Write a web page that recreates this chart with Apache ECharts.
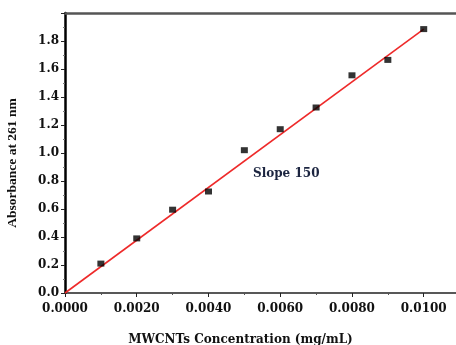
<!DOCTYPE html>
<html>
<head>
<meta charset="utf-8">
<script src="https://cdn.jsdelivr.net/npm/echarts@6/dist/echarts.min.js"></script>
<style>
  html, body { margin: 0; padding: 0; background: #fff; }
  #chart { width: 456px; height: 345px; }
</style>
</head>
<body>
<div id="chart"></div>
<script>
  // measured points
  var concentration = [0.001, 0.002, 0.003, 0.004, 0.005, 0.006, 0.007, 0.008, 0.009, 0.010];
  var absorbance = [0.21, 0.39, 0.595, 0.725, 1.02, 1.17, 1.325, 1.555, 1.665, 1.885];
  // fitted line end points
  var fitX = [0, 0.010];
  var fitY = [0, 1.885];

  var chart = echarts.init(document.getElementById('chart'));
  var labelFont = { fontFamily: 'DejaVu Serif', fontWeight: 'bold', fontSize: 12, color: '#111' };

  chart.setOption({
    animation: false,
    grid: { left: 65, top: 13, right: 0, bottom: 52, outerBoundsMode: 'none', containLabel: false },
    xAxis: [{
      type: 'value',
      min: 0,
      max: 0.0109,
      interval: 0.002,
      name: 'MWCNTs Concentration (mg/mL)',
      nameLocation: 'middle',
      nameGap: 41,
      nameTextStyle: { fontFamily: 'DejaVu Serif', fontWeight: 'bold', fontSize: 12, color: '#111', padding: [0, 0, 0, -40] },
      axisLine: { lineStyle: { color: '#222', width: 1.5 } },
      axisTick: { length: 4, lineStyle: { color: '#222' } },
      minorTick: { show: true, splitNumber: 2, length: 2, lineStyle: { color: '#555' } },
      splitLine: { show: false },
      axisLabel: Object.assign({ margin: 10, showMaxLabel: false, formatter: function (v) { return v.toFixed(4); } }, labelFont)
    }, {
      type: 'value',
      position: 'top',
      min: 0,
      max: 0.0109,
      axisLine: { show: true, lineStyle: { color: '#555', width: 2.5 } },
      axisTick: { show: false },
      axisLabel: { show: false },
      splitLine: { show: false }
    }],
    yAxis: {
      type: 'value',
      min: 0,
      max: 2.0,
      interval: 0.2,
      name: 'Absorbance at 261 nm',
      nameLocation: 'middle',
      nameGap: 45,
      nameTextStyle: { fontFamily: 'Liberation Serif', fontWeight: 'bold', fontSize: 13.5, color: '#111', padding: [0, 20, 0, 0] },
      axisLine: { show: true, lineStyle: { color: '#000', width: 2.5 } },
      axisTick: { show: true, length: 4, lineStyle: { color: '#222' } },
      minorTick: { show: true, splitNumber: 2, length: 2, lineStyle: { color: '#777' } },
      splitLine: { show: false },
      axisLabel: Object.assign({ margin: 6, showMaxLabel: false, formatter: function (v) { return v.toFixed(1); } }, labelFont)
    },
    series: [{
      type: 'line',
      data: fitX.map(function (x, i) { return [x, fitY[i]]; }),
      symbol: 'none',
      lineStyle: { color: '#ee2a2a', width: 1.6 },
      z: 2
    }, {
      type: 'scatter',
      data: concentration.map(function (x, i) { return [x, absorbance[i]]; }),
      symbol: 'rect',
      symbolSize: [7, 6],
      itemStyle: { color: '#000' },
      z: 3
    }],
    graphic: [{
      type: 'text',
      left: 253,
      top: 168,
      style: { text: 'Slope 150', fontFamily: 'DejaVu Serif', fontWeight: 'bold', fontSize: 12, fill: '#1c2540' }
    }]
  });
</script>
</body>
</html>
